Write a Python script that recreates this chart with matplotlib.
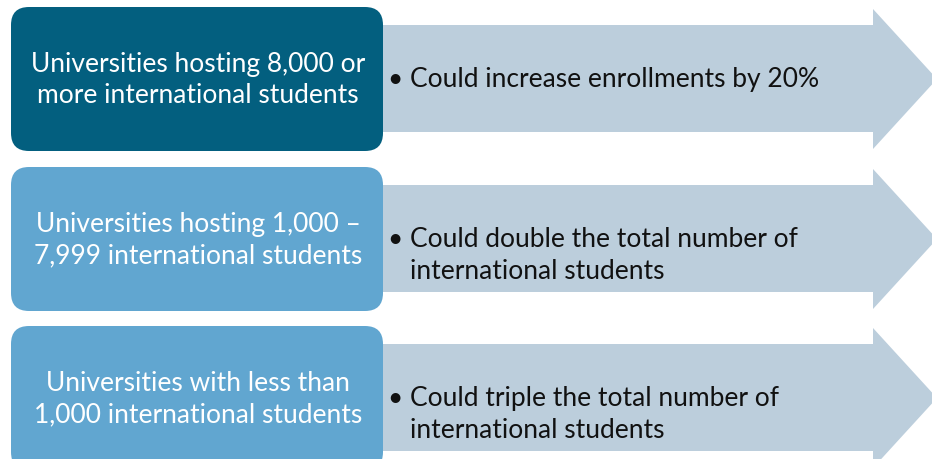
import matplotlib
matplotlib.use("Agg")
import matplotlib.pyplot as plt
from matplotlib.patches import FancyBboxPatch, Polygon

groups = ["Universities hosting 8,000 or\nmore international students",
          "Universities hosting 1,000 \u2013\n7,999 international students",
          "Universities with less than\n1,000 international students"]
outcomes = ["Could increase enrollments by 20%",
            "Could double the total number of\ninternational students",
            "Could triple the total number of\ninternational students"]
box_colors = ["#035F7F", "#61A6D0", "#61A6D0"]
arrow_color = "#BCCEDC"

fig = plt.figure(figsize=(9.32, 4.6), dpi=100)
ax = fig.add_axes([0, 0, 1, 1])
ax.set_xlim(0, 932)
ax.set_ylim(460, 0)
ax.axis("off")

row_tops = [8, 168, 327]
box_h = 144
line_gap = 31.5
for i, (g, o) in enumerate(zip(groups, outcomes)):
    top = row_tops[i]
    st, sb = top + 18, top + 125
    ht, hb = top + 2, top + 142
    mid = (ht + hb) / 2
    poly = Polygon([(381, st), (873, st), (873, ht), (937, mid), (873, hb), (873, sb), (381, sb)],
                   closed=True, facecolor=arrow_color, edgecolor="none", zorder=1)
    ax.add_patch(poly)
    box = FancyBboxPatch((11 + 18, top + 18), 372 - 36, box_h - 36,
                         boxstyle="round,pad=18", facecolor=box_colors[i],
                         edgecolor="none", zorder=2)
    ax.add_patch(box)
    glines = g.split("\n")
    n = len(glines)
    for k, line in enumerate(glines):
        y = top + box_h / 2 + (k - (n - 1) / 2) * line_gap
        ax.text(198, y, line, ha="center", va="center", color="white",
                fontsize=19, family="Lato", zorder=3)
    ax.text(387, mid, "\u2022", ha="left", va="center", color="#111111",
            fontsize=19, family="Lato", zorder=3)
    for k, line in enumerate(o.split("\n")):
        ax.text(410, mid + k * line_gap, line, ha="left", va="center", color="#111111",
                fontsize=19, family="Lato", zorder=3)

fig.savefig("out.png", dpi=100)
